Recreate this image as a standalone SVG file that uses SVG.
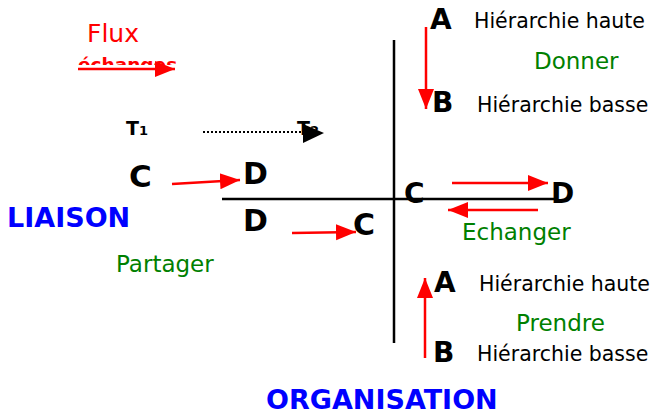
<svg xmlns="http://www.w3.org/2000/svg" width="658" height="414" viewBox="0 0 658 414">
<style>
.t{font-family:"DejaVu Sans","Verdana",sans-serif}
.big{font-family:"DejaVu Sans",sans-serif;font-weight:bold;fill:#000}
.h{font-family:"DejaVu Sans",sans-serif;font-size:20.5px;fill:#000}
.g{font-family:"DejaVu Sans",sans-serif;font-size:23px;fill:#008000}
.b{font-family:"DejaVu Sans",sans-serif;font-weight:bold;font-size:27px;fill:#0000ff}
.red{stroke:#ff0000;stroke-width:2.5;fill:none}
.axis{stroke:#000;stroke-width:2.5;fill:none}
</style>
<defs>
<marker id="ra" viewBox="0 0 10 10" refX="10" refY="5" markerWidth="8" markerHeight="8" orient="auto" markerUnits="strokeWidth"><path d="M0,1 L10,5 L0,9 z" fill="#ff0000"/></marker>
<clipPath id="cl"><rect x="60" y="40" width="140" height="25"/></clipPath>
</defs>
<rect width="658" height="414" fill="#fff"/>
<g id="legend">
<text class="t" x="87" y="42" font-size="25" fill="#ff0000">Flux</text>
<text class="t" x="78" y="71" font-size="18.5" font-weight="bold" fill="#ff0000" clip-path="url(#cl)">échanges</text>
<text class="big" x="126" y="135" font-size="19">T<tspan font-size="13">1</tspan></text>
<text class="big" x="297" y="135" font-size="19">T<tspan font-size="13">2</tspan></text>
</g>
<g id="connectors">
<line class="red" x1="78" y1="69" x2="175" y2="69" marker-end="url(#ra)"/>
<line x1="203" y1="132" x2="305" y2="132" stroke="#000" stroke-width="2" stroke-dasharray="2,2"/>
<path d="M303,124 L324,133 L303,143 z" fill="#000"/>
<line class="axis" x1="222" y1="199" x2="555" y2="199"/>
<line class="axis" x1="394" y1="40" x2="394" y2="343"/>
<line class="red" x1="172" y1="184" x2="240" y2="180" marker-end="url(#ra)"/>
<line class="red" x1="292" y1="233" x2="356" y2="232" marker-end="url(#ra)"/>
<line class="red" x1="452" y1="183" x2="548" y2="183" marker-end="url(#ra)"/>
<line class="red" x1="538" y1="210" x2="448" y2="210" marker-end="url(#ra)"/>
<line class="red" x1="426" y1="27" x2="426" y2="109" marker-end="url(#ra)"/>
<line class="red" x1="425" y1="358" x2="425" y2="278" marker-end="url(#ra)"/>
</g>
<g id="liaison">
<text class="b" x="7" y="227" font-size="28.5">LIAISON</text>
<text class="g" x="116" y="272">Partager</text>
<text class="big" x="129" y="187" font-size="31">C</text>
<text class="big" x="243" y="184" font-size="30">D</text>
<text class="big" x="243" y="231" font-size="30">D</text>
<text class="big" x="353" y="235" font-size="30">C</text>
</g>
<g id="echanger">
<text class="big" x="404" y="203" font-size="28">C</text>
<text class="big" x="551" y="203" font-size="28">D</text>
<text class="g" x="462" y="240">Echanger</text>
</g>
<g id="donner">
<text class="big" x="430" y="29" font-size="28">A</text>
<text class="h" x="474" y="28">Hiérarchie haute</text>
<text class="g" x="534" y="69">Donner</text>
<text class="big" x="432" y="112" font-size="28">B</text>
<text class="h" x="477" y="112">Hiérarchie basse</text>
</g>
<g id="prendre">
<text class="big" x="434" y="292" font-size="28">A</text>
<text class="h" x="479" y="291">Hiérarchie haute</text>
<text class="g" x="516" y="331">Prendre</text>
<text class="big" x="433" y="362" font-size="28">B</text>
<text class="h" x="477" y="361">Hiérarchie basse</text>
</g>
<g id="organisation">
<text class="b" x="266" y="409">ORGANISATION</text>
</g>
</svg>
